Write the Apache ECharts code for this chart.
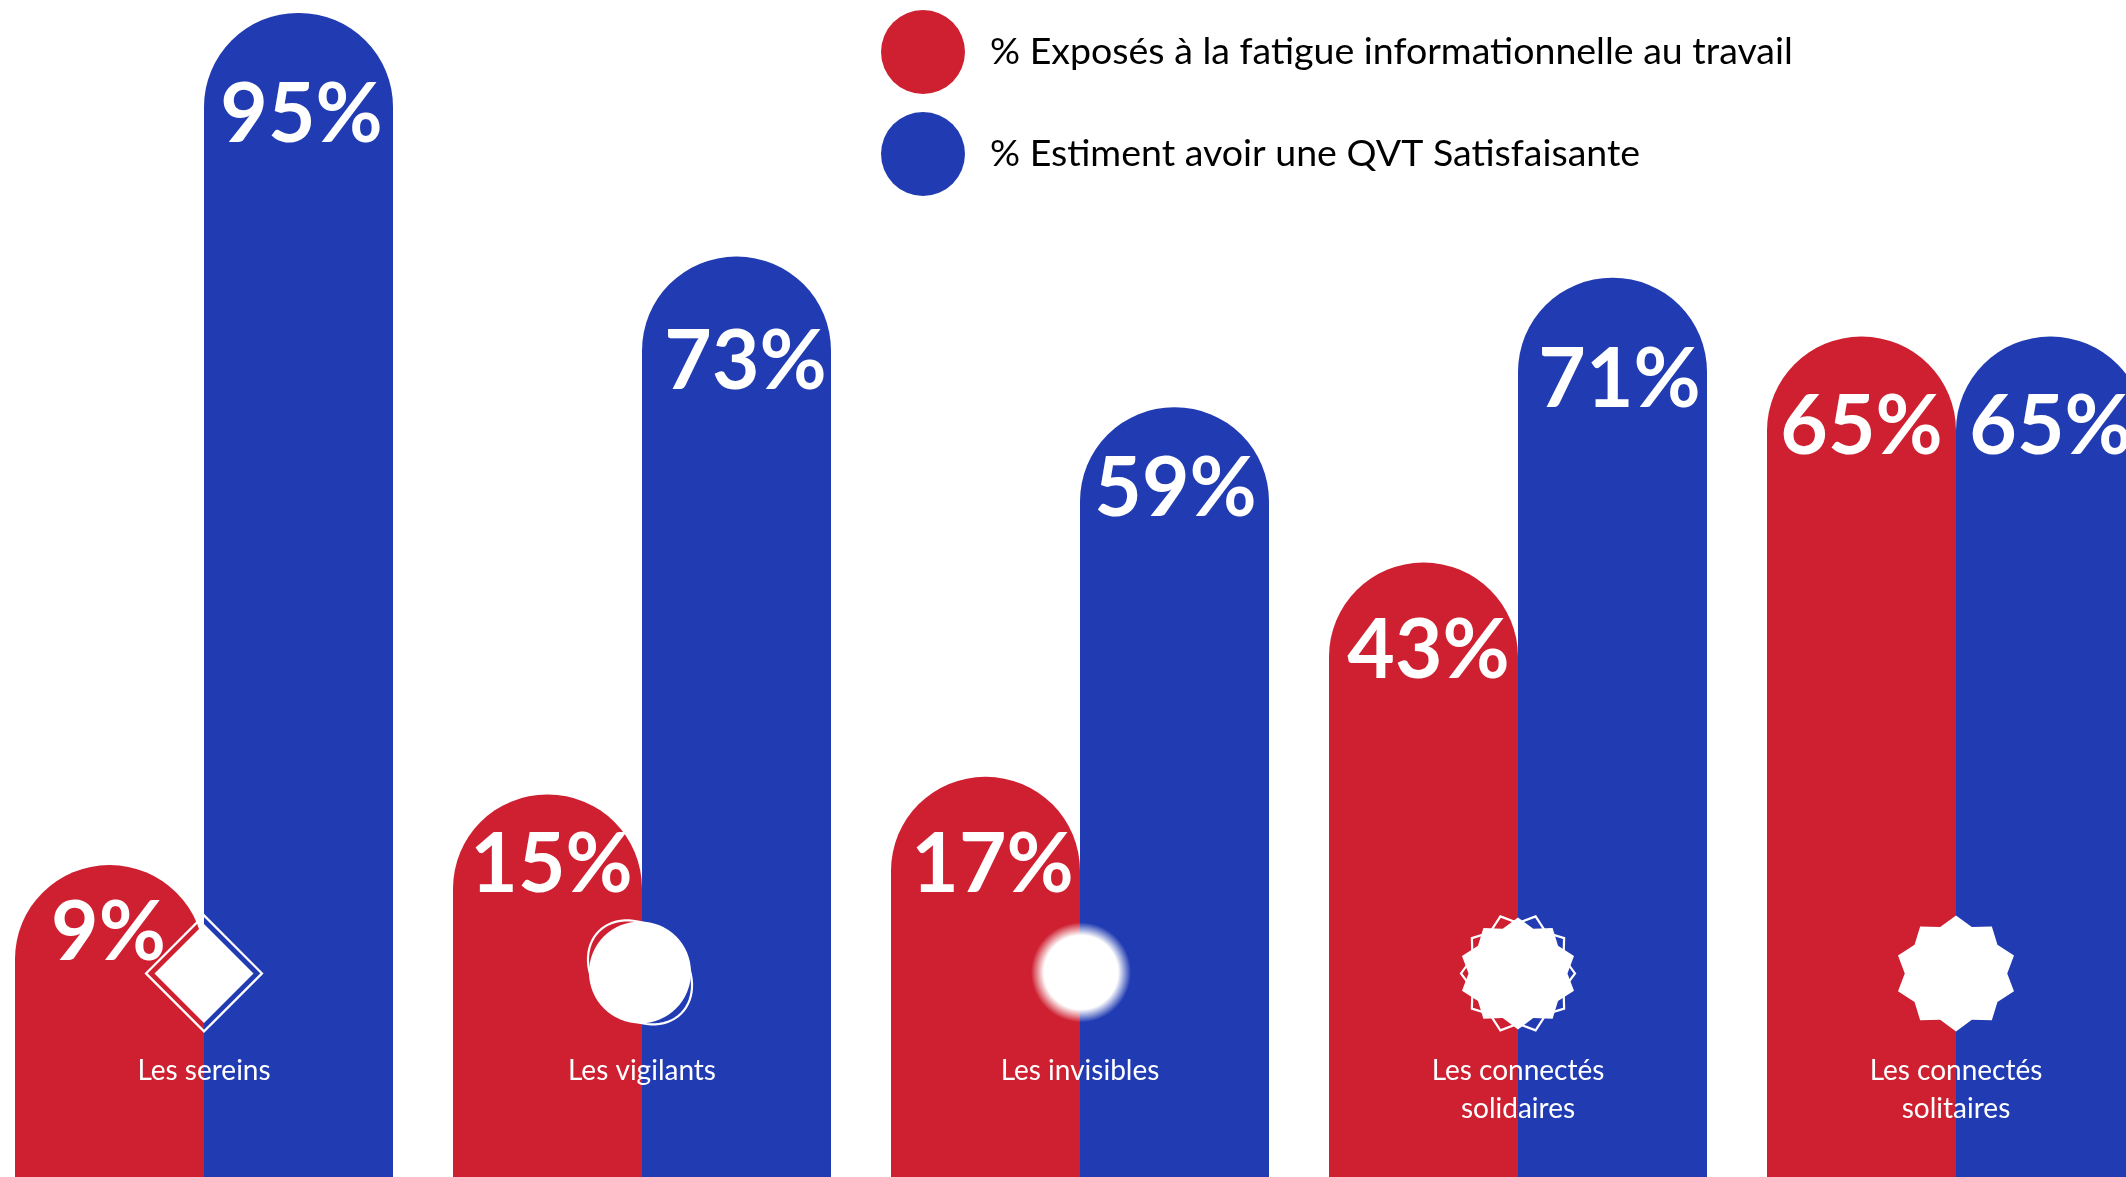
<!DOCTYPE html>
<html lang="fr">
<head>
<meta charset="utf-8">
<title>Fatigue informationnelle et QVT</title>
<style>html,body{margin:0;padding:0;background:#fff}#chart{width:2126px;height:1177px}</style>
<script src="https://cdn.jsdelivr.net/npm/echarts@6/dist/echarts.min.js"></script>
</head>
<body>
<div id="chart"></div>
<script>
// Data
const categories = ['Les sereins', 'Les vigilants', 'Les invisibles', 'Les connectés\nsolidaires', 'Les connectés\nsolitaires'];
const seriesNames = ['% Exposés à la fatigue informationnelle au travail', '% Estiment avoir une QVT Satisfaisante'];
// Printed percentages
const redPercent = [9, 15, 17, 43, 65];
const bluePercent = [95, 73, 59, 71, 65];
// Bars are drawn by hand in the source, not to scale with their label: drawn height, in % of chart height
const redDrawn = [26.5, 32.5, 34.0, 52.2, 71.4];
const blueDrawn = [98.9, 78.2, 65.4, 76.4, 71.4];
// Layout of the value labels [dx, dy] from the inside top of each bar
const redLabelShift = [[-1, 27], [4, 30], [7, 48], [5, 48], [0, 50]];
const blueLabelShift = [[3, 62], [9, 65], [1, 41], [7, 62], [0, 50]];

const RED = '#CE2030', BLUE = '#213CB2', FONT = 'Lato';

function starPath(points, rotationDeg, inner) {
  let d = '';
  for (let i = 0; i < points * 2; i++) {
    const r = i % 2 ? inner : 100;
    const a = (rotationDeg + i * 180 / points - 90) * Math.PI / 180;
    d += (i ? 'L' : 'M') + (r * Math.cos(a)).toFixed(2) + ' ' + (r * Math.sin(a)).toFixed(2) + ' ';
  }
  return 'path://' + d + 'Z';
}
const star = starPath(10, 0, 84);
const starOutline = starPath(10, 18, 84);
const ovalPath = (function () {
  // ellipse tilted 45 degrees
  let d = '';
  for (let i = 0; i < 72; i++) {
    const t = i * 5 * Math.PI / 180, u = 58 * Math.cos(t), v = 45 * Math.sin(t);
    d += (i ? 'L' : 'M') + ((u - v) * 0.7071).toFixed(2) + ' ' + ((u + v) * 0.7071).toFixed(2) + ' ';
  }
  return 'path://' + d + 'Z';
})();

const iconLevel = 17.3;
const softWhite = {
  type: 'radial', x: 0.5, y: 0.5, r: 0.5,
  colorStops: [
    { offset: 0, color: 'rgba(255,255,255,1)' },
    { offset: 0.74, color: 'rgba(255,255,255,1)' },
    { offset: 1, color: 'rgba(255,255,255,0)' }
  ]
};
const outlineIcons = [
  { value: [0, iconLevel], symbol: 'diamond', symbolSize: 116 },
  { value: [1, iconLevel], symbol: ovalPath, symbolSize: 104, symbolOffset: [-2, -1] },
  { value: [3, iconLevel], symbol: starOutline, symbolSize: 114 }
];
const filledIcons = [
  { value: [0, iconLevel], symbol: 'diamond', symbolSize: 99 },
  { value: [1, iconLevel], symbol: 'circle', symbolSize: 102, symbolOffset: [-2, -1] },
  { value: [2, iconLevel], symbol: 'circle', symbolSize: 100, symbolOffset: [1, -1], itemStyle: { color: softWhite } },
  { value: [3, iconLevel], symbol: star, symbolSize: 112 },
  { value: [4, iconLevel], symbol: star, symbolSize: 116 }
];

function barData(drawn, percent, shift) {
  return drawn.map((v, i) => ({
    value: v,
    label: { formatter: percent[i] + '%', offset: shift[i] }
  }));
}
const barLabel = {
  show: true, position: 'insideTop', distance: 0, color: '#fff',
  fontFamily: FONT, fontWeight: 700, fontSize: 82
};
const radius = [94, 94, 0, 0];

const chart = echarts.init(document.getElementById('chart'), null, { renderer: 'canvas' });
chart.setOption({
  animation: false,
  backgroundColor: '#fff',
  legend: {
    data: seriesNames, orient: 'vertical', left: 876, top: 5,
    icon: 'circle', itemWidth: 84, itemHeight: 84, itemGap: 18,
    selectedMode: false,
    textStyle: { color: '#000', fontFamily: FONT, fontSize: 37.5, padding: [0, 0, 0, 20] }
  },
  grid: { left: -15, top: 0, width: 2190, height: 1177, containLabel: false, outerBoundsMode: 'none' },
  xAxis: {
    type: 'category', data: categories, offset: -125, z: 20,
    axisLine: { show: false }, axisTick: { show: false }, splitLine: { show: false },
    axisLabel: { color: '#fff', fontFamily: FONT, fontSize: 28, lineHeight: 38, margin: 0, verticalAlign: 'top', interval: 0 }
  },
  yAxis: { type: 'value', min: 0, max: 100, show: false, splitLine: { show: false } },
  series: [
    { name: seriesNames[0], type: 'bar', barWidth: 189, barGap: 0, itemStyle: { color: RED, borderRadius: radius }, label: barLabel, data: barData(redDrawn, redPercent, redLabelShift), z: 2 },
    { name: seriesNames[1], type: 'bar', barWidth: 189, barGap: 0, itemStyle: { color: BLUE, borderRadius: radius }, label: barLabel, data: barData(blueDrawn, bluePercent, blueLabelShift), z: 3 },
    { name: 'pictos-contours', type: 'scatter', data: outlineIcons, itemStyle: { color: 'rgba(0,0,0,0)', borderColor: '#fff', borderWidth: 2.2, opacity: 1 }, z: 5 },
    { name: 'pictos', type: 'scatter', data: filledIcons, itemStyle: { color: '#fff', opacity: 1 }, z: 6 }
  ]
});
</script>
</body>
</html>
